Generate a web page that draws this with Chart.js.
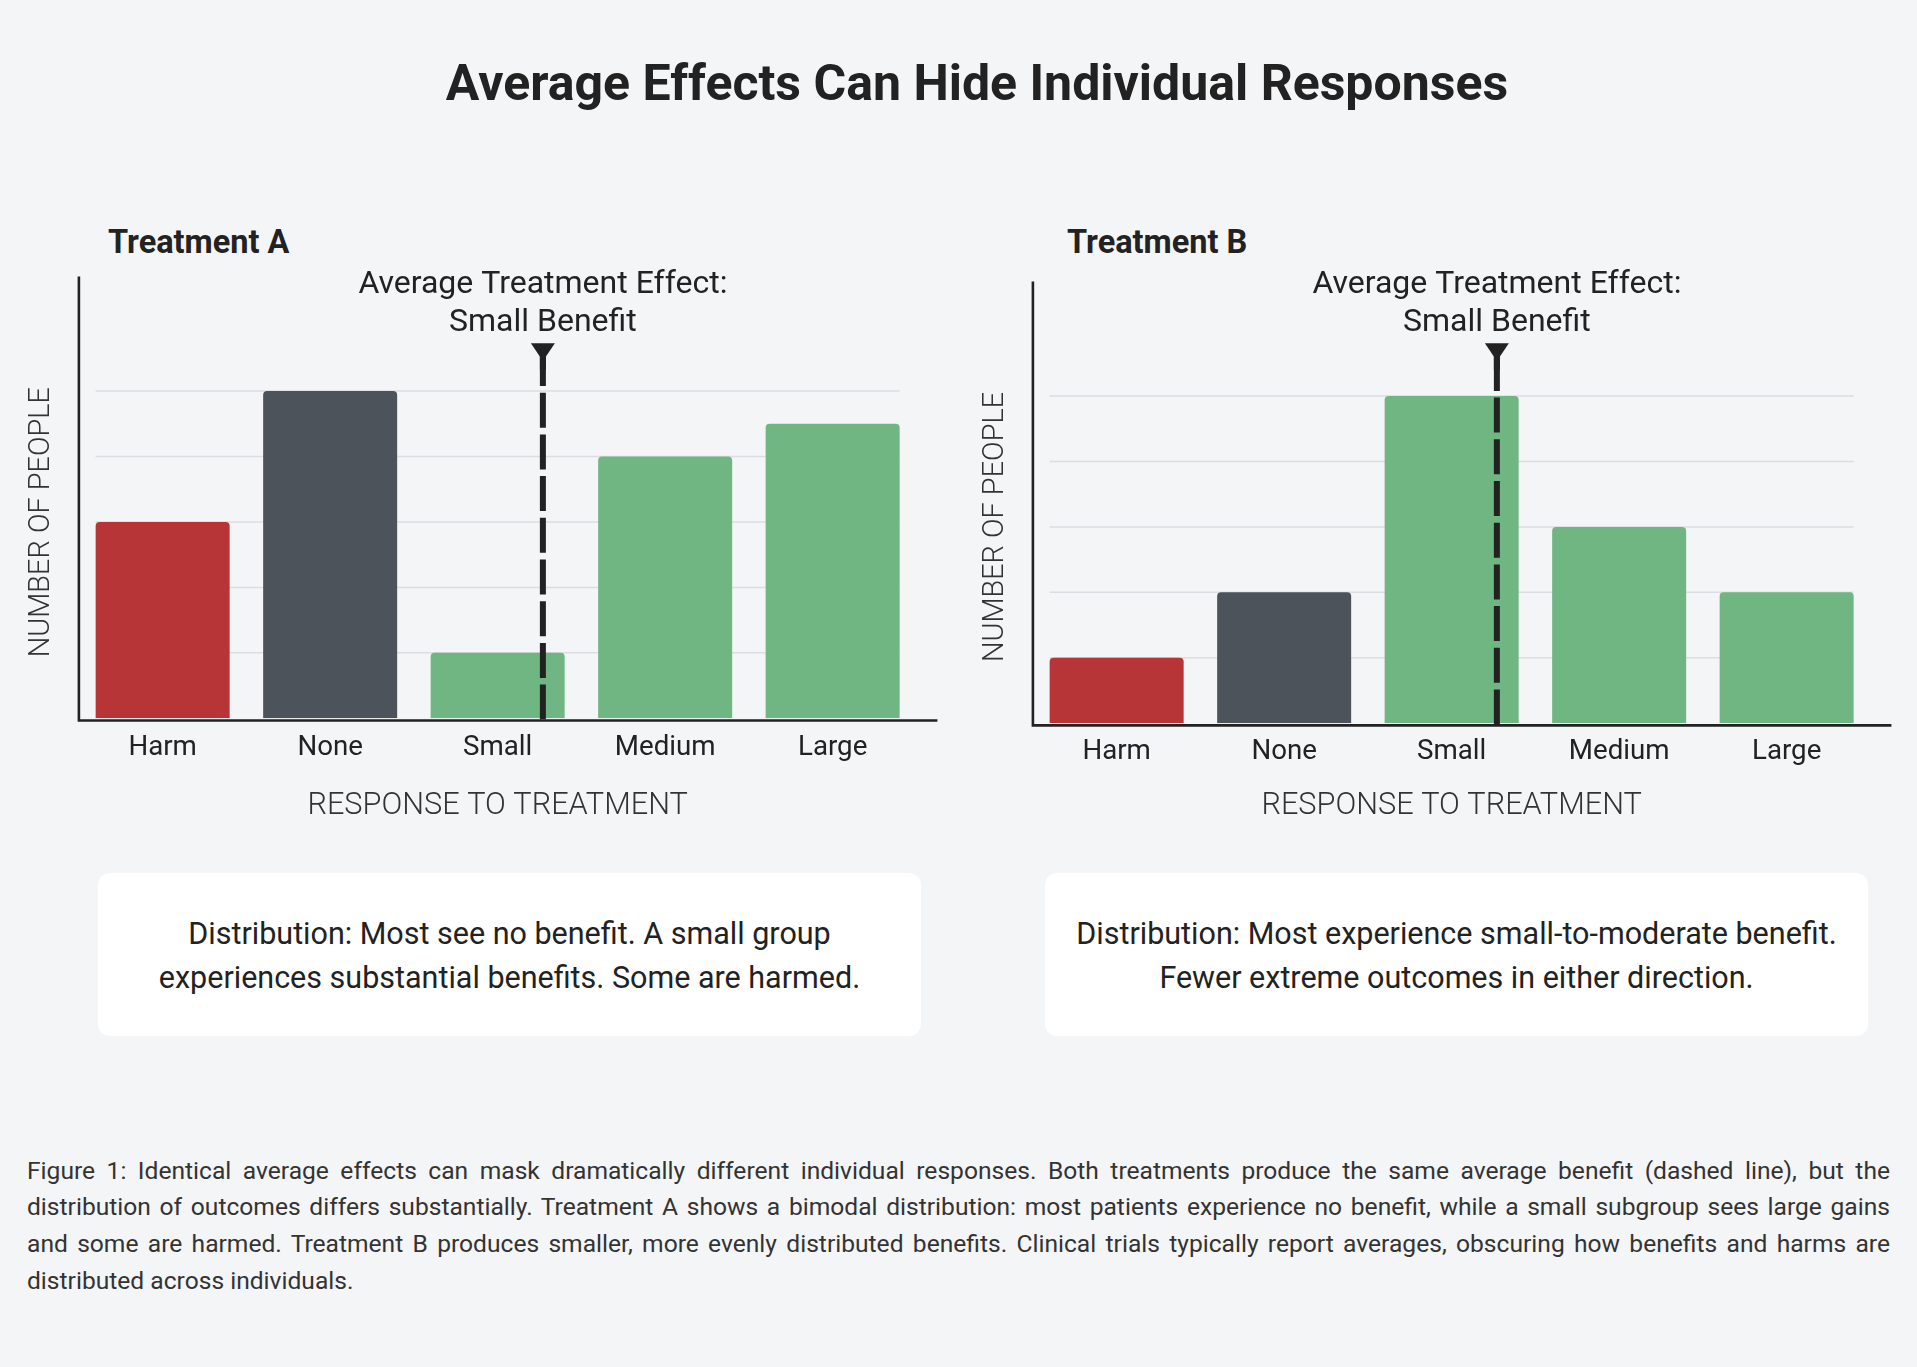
<!DOCTYPE html>
<html lang="en">
<head>
<meta charset="UTF-8">
<title>Average Effects Can Hide Individual Responses</title>
<script src="https://cdn.jsdelivr.net/npm/chart.js"></script>
<style>
    body {
        margin: 0;
        width: 1917px;
        height: 1367px;
        background: #f4f5f7;
        font-family: Roboto, Arial, sans-serif;
        color: #222;
        position: relative;
        overflow: hidden;
    }
    .title {
        position: absolute;
        left: 77px;
        width: 1800px;
        top: 53px;
        line-height: 60px;
        text-align: center;
        font-size: 50px;
        font-weight: 700;
        white-space: nowrap;
    }
    .panel-title {
        position: absolute;
        top: 223px;
        line-height: 38px;
        font-size: 32.5px;
        font-weight: 700;
    }
    canvas {
        position: absolute;
        top: 200px;
    }
    .box {
        position: absolute;
        top: 873px;
        width: 823px;
        height: 163px;
        background: #fff;
        border-radius: 12px;
        display: flex;
        align-items: center;
        justify-content: center;
        text-align: center;
        font-size: 30.5px;
        line-height: 44px;
    }
    .box div {
        padding-top: 2px;
    }
    .caption {
        position: absolute;
        left: 27px;
        width: 1863px;
        top: 1152.5px;
        font-size: 24.6px;
        line-height: 36.7px;
        color: #333;
    }
    .caption div {
        text-align: justify;
        text-align-last: justify;
    }
    .caption div.last {
        text-align-last: left;
    }
</style>
</head>
<body>
    <div class="title">Average Effects Can Hide Individual Responses</div>

    <div class="panel-title" style="left:108px">Treatment A</div>
    <div class="panel-title" style="left:1067px">Treatment B</div>

    <canvas id="chartA" width="958" height="630" style="left:0px"></canvas>
    <canvas id="chartB" width="958" height="630" style="left:954px"></canvas>

    <div class="box" style="left:98px">
        <div>Distribution: Most see no benefit. A small group<br>experiences substantial benefits. Some are harmed.</div>
    </div>
    <div class="box" style="left:1045px">
        <div>Distribution: Most experience small-to-moderate benefit.<br>Fewer extreme outcomes in either direction.</div>
    </div>

    <div class="caption">
        <div>Figure 1: Identical average effects can mask dramatically different individual responses. Both treatments produce the same average benefit (dashed line), but the</div>
        <div>distribution of outcomes differs substantially. Treatment A shows a bimodal distribution: most patients experience no benefit, while a small subgroup sees large gains</div>
        <div>and some are harmed. Treatment B produces smaller, more evenly distributed benefits. Clinical trials typically report averages, obscuring how benefits and harms are</div>
        <div class="last">distributed across individuals.</div>
    </div>

    <script>
        const categories = ['Harm', 'None', 'Small', 'Medium', 'Large'];
        const treatmentA = [3, 5, 1, 4, 4.5];
        const treatmentB = [1, 2, 5, 3, 2];
        const barColors = ['#b73537', '#4c535a', '#6fb683', '#6fb683', '#6fb683'];
        const gridValues = [1, 2, 3, 4, 5];
        const yMax = 6.75;
        const avgEffect = 2.27; // on the category axis: Small = 2, Medium = 3
        const avgLabel = ['Average Treatment Effect:', 'Small Benefit'];
        const yTitle = 'NUMBER OF PEOPLE';
        const xTitle = 'RESPONSE TO TREATMENT';

        // grid, axis lines, mean marker and labels
        const decorations = {
            id: 'decorations',
            beforeDatasetsDraw(chart) {
                const {ctx, scales: {y}} = chart;
                const bars = chart.getDatasetMeta(0).data;
                const first = bars[0], last = bars[bars.length - 1];
                const x0 = first.x - first.width / 2;
                const x1 = last.x + last.width / 2;
                ctx.save();
                ctx.strokeStyle = '#dcdde0';
                ctx.lineWidth = 1.5;
                gridValues.forEach(v => {
                    const py = y.getPixelForValue(v);
                    ctx.beginPath();
                    ctx.moveTo(x0, py);
                    ctx.lineTo(x1, py);
                    ctx.stroke();
                });
                ctx.restore();
            },
            afterDatasetsDraw(chart) {
                const {ctx, chartArea: area, scales: {x}} = chart;
                ctx.save();

                // axes
                ctx.strokeStyle = '#222';
                ctx.lineWidth = 2.6;
                ctx.beginPath();
                ctx.moveTo(area.left, area.top);
                ctx.lineTo(area.left, area.bottom + 3.4);
                ctx.moveTo(area.left - 1.3, area.bottom + 2.2);
                ctx.lineTo(area.right + 21, area.bottom + 2.2);
                ctx.stroke();

                // mean line
                const p2 = x.getPixelForValue(Math.floor(avgEffect));
                const p3 = x.getPixelForValue(Math.floor(avgEffect) + 1);
                const mx = p2 + (avgEffect - Math.floor(avgEffect)) * (p3 - p2);
                ctx.lineWidth = 6;
                ctx.setLineDash([35, 6.7]);
                ctx.beginPath();
                ctx.moveTo(mx, area.top + 74.4);
                ctx.lineTo(mx, area.bottom + 1);
                ctx.stroke();
                ctx.setLineDash([]);

                // marker on top of the line
                ctx.fillStyle = '#222';
                ctx.beginPath();
                ctx.moveTo(mx - 12, 143.3);
                ctx.lineTo(mx + 12, 143.3);
                ctx.lineTo(mx, 161);
                ctx.closePath();
                ctx.fill();
                ctx.fillRect(mx - 3, 150, 6, 20);

                ctx.textAlign = 'center';
                ctx.textBaseline = 'middle';
                ctx.font = '400 32px Roboto';
                ctx.fillText(avgLabel[0], mx, 85.4);
                ctx.fillText(avgLabel[1], mx, 122.6);

                // y axis title
                ctx.fillStyle = '#333';
                ctx.font = '300 28.9px Roboto';
                ctx.translate(41.6, area.top + 245.5);
                ctx.rotate(-Math.PI / 2);
                ctx.fillText(yTitle, 0, 0);
                ctx.restore();
            }
        };

        function makeChart(id, values, shift) {
            const ctx = document.getElementById(id).getContext('2d');
            return new Chart(ctx, {
                type: 'bar',
                data: {
                    labels: categories,
                    datasets: [{
                        data: values,
                        backgroundColor: barColors,
                        borderRadius: 4,
                        borderSkipped: 'start',
                        categoryPercentage: 0.8,
                        barPercentage: 1
                    }]
                },
                options: {
                    responsive: false,
                    animation: false,
                    layout: {
                        padding: {top: 76.6 + shift, right: 41.6, bottom: 0, left: 0}
                    },
                    plugins: {
                        legend: {display: false},
                        tooltip: {enabled: false}
                    },
                    scales: {
                        x: {
                            grid: {display: false, drawTicks: false},
                            border: {display: false},
                            ticks: {
                                color: '#222',
                                padding: 13.6 - shift * 0.27,
                                font: {family: 'Roboto', size: 27.7}
                            },
                            title: {
                                display: true,
                                text: xTitle,
                                color: '#333',
                                padding: {top: 0, bottom: 4.8},
                                font: {family: 'Roboto', size: 30.7, weight: 300}
                            },
                            afterFit(scale) { scale.height = 111.7 - shift; }
                        },
                        y: {
                            min: 0,
                            max: yMax,
                            grid: {display: false, drawTicks: false},
                            border: {display: false},
                            ticks: {display: false},
                            afterFit(scale) { scale.width = 78.9; }
                        }
                    }
                },
                plugins: [decorations]
            });
        }

        makeChart('chartA', treatmentA, 0);
        makeChart('chartB', treatmentB, 4.9);
    </script>
</body>
</html>
